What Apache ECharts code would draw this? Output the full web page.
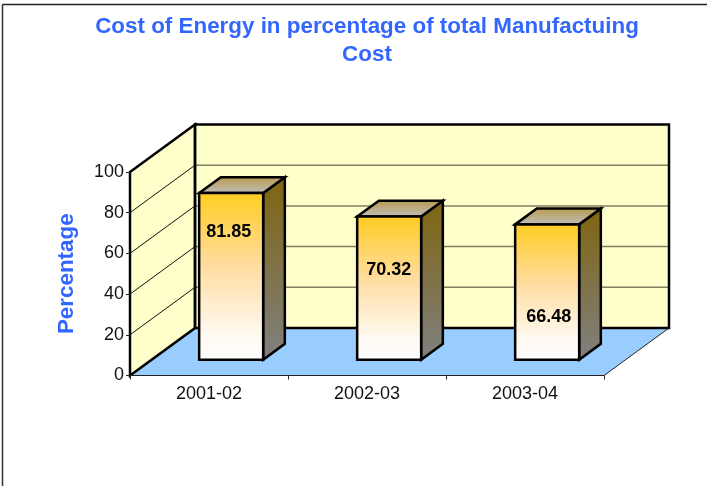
<!DOCTYPE html>
<html>
<head>
<meta charset="utf-8">
<style>
  html, body { margin: 0; padding: 0; background: #fff; }
  #chart { width: 707px; height: 486px; }
</style>
<script src="https://cdn.jsdelivr.net/npm/echarts@6/dist/echarts.min.js"></script>
</head>
<body>
<div id="chart"></div>
<script>
    // data
    var categories = ['2001-02', '2002-03', '2003-04'];
    var costShare = [81.85, 70.32, 66.48];
    var yTicks = [0, 20, 40, 60, 80, 100];

    // fake 3d: how far the back wall sits from the front plane
    var depthX = 65, depthY = 47.5;
    var barWidth = 0.405;          // share of a category band
    var barFront = 1 / 3, barBack = 2 / 3;
    // the data labels were hand placed in the original (px above the bar foot, px from bar centre)
    var labelLift = [128, 90, 43];
    var labelShift = [-2, 0, 2];

    var FONT = '"Liberation Sans", Arial, sans-serif';
    var myChart = echarts.init(document.getElementById('chart'), null, {renderer: 'canvas'});

    function poly(points, fill, stroke, width) {
        return {
            type: 'polygon',
            shape: {points: points},
            style: {fill: fill, stroke: stroke || null, lineWidth: width || 0, lineJoin: 'miter'}
        };
    }
    function line(x1, y1, x2, y2, color, width) {
        return {
            type: 'line',
            shape: {x1: x1, y1: y1, x2: x2, y2: y2},
            style: {stroke: color, lineWidth: width}
        };
    }
    function vGrad(stops) {
        return new echarts.graphic.LinearGradient(0, 0, 0, 1, stops);
    }

    function renderWalls(params, api) {
        var c = params.coordSys;
        var left = c.x, right = c.x + c.width, top = c.y, bottom = c.y + c.height;
        var kids = [
            poly([[left, bottom], [left + depthX, bottom - depthY], [right + depthX, bottom - depthY], [right, bottom]], '#99ccff'),
            poly([[left + depthX, top - depthY], [right + depthX, top - depthY], [right + depthX, bottom - depthY], [left + depthX, bottom - depthY]], '#ffffcc'),
            poly([[left, top], [left + depthX, top - depthY], [left + depthX, bottom - depthY], [left, bottom]], '#ffffcc')
        ];
        yTicks.forEach(function (v) {
            if (v === 0 || v === 100) return;
            var y = api.coord([0, v])[1];
            kids.push(line(left, y, left + depthX, y - depthY, '#111', 1));
            kids.push(line(left + depthX, y - depthY, right + depthX, y - depthY, '#7f7f60', 1.5));
        });
        // heavy outline of the walls
        kids.push(poly([[left, top], [left + depthX, top - depthY], [left + depthX, bottom - depthY], [left, bottom]], 'none', '#000', 2.5));
        kids.push(poly([[left + depthX, top - depthY], [right + depthX, top - depthY], [right + depthX, bottom - depthY], [left + depthX, bottom - depthY]], 'none', '#000', 2.5));
        // thin front edges of the floor
        kids.push(line(right, bottom, right + depthX, bottom - depthY, '#222', 1));
        return {type: 'group', children: kids};
    }

    function renderBar(params, api) {
        var i = api.value(0);
        var head = api.coord([i, api.value(1)]);
        var foot = api.coord([i, 0]);
        var w = api.size([1, 0])[0] * barWidth;
        var dx = depthX * barFront, dy = depthY * barFront;
        var bx = depthX * (barBack - barFront), by = depthY * (barBack - barFront);
        var x0 = foot[0] + dx - w / 2 + 0.5, x1 = x0 + w;
        var y0 = foot[1] - dy, y1 = head[1] - dy;
        var cx = foot[0] + dx + labelShift[params.dataIndex];
        return {
            type: 'group',
            children: [
                poly([[x1, y1], [x1 + bx, y1 - by], [x1 + bx, y0 - by], [x1, y0]],
                    vGrad([{offset: 0, color: '#7f650f'}, {offset: 1, color: '#808080'}]), '#000', 2.5),
                poly([[x0, y1], [x0 + bx, y1 - by], [x1 + bx, y1 - by], [x1, y1]],
                    vGrad([{offset: 0, color: '#b8984a'}, {offset: 1, color: '#c0c0c0'}]), '#000', 2.5),
                poly([[x0, y1], [x1, y1], [x1, y0], [x0, y0]],
                    vGrad([{offset: 0, color: '#ffcc1f'}, {offset: 0.42, color: '#ffdc9c'}, {offset: 0.85, color: '#fffaf2'}, {offset: 1, color: '#ffffff'}]), '#000', 2.5),
                {
                    type: 'text',
                    style: {
                        text: api.value(1).toFixed(2),
                        x: cx,
                        y: y0 - labelLift[params.dataIndex],
                        align: 'center',
                        verticalAlign: 'middle',
                        fill: '#000',
                        font: 'bold 18px ' + FONT
                    }
                }
            ]
        };
    }

    var options = {
        animation: false,
        backgroundColor: '#fff',
        textStyle: {fontFamily: FONT},
        title: {
            text: 'Cost of Energy in percentage of total Manufactuing\nCost',
            left: 362,
            top: 8,
            textAlign: 'center',
            textStyle: {
                color: '#3366ff',
                fontFamily: FONT,
                fontWeight: 'bold',
                fontSize: 22.4,
                lineHeight: 28
            }
        },
        grid: {left: 130, right: 103, top: 172, bottom: 110.5},
        xAxis: {
            type: 'category',
            data: categories,
            z: 5,
            axisLine: {show: true, lineStyle: {color: '#222', width: 1}},
            axisTick: {show: true, alignWithLabel: false, length: 4, lineStyle: {color: '#222'}},
            axisLabel: {color: '#111', fontSize: 18, margin: 10, fontFamily: FONT}
        },
        yAxis: {
            type: 'value',
            min: 0,
            max: 100,
            interval: 20,
            name: 'Percentage',
            nameLocation: 'middle',
            nameGap: 52,
            nameRotate: 90,
            nameTextStyle: {color: '#3366ff', fontSize: 22.4, fontWeight: 'bold', fontFamily: FONT},
            z: 5,
            splitLine: {show: false},
            axisLine: {show: true, lineStyle: {color: '#000', width: 2}},
            axisTick: {show: true, length: 4, lineStyle: {color: '#222'}},
            axisLabel: {color: '#111', fontSize: 18, margin: 6, fontFamily: FONT}
        },
        series: [
            {
                name: 'walls',
                type: 'custom',
                silent: true,
                clip: false,
                z: 1,
                data: [[0, 0]],
                renderItem: renderWalls
            },
            {
                name: 'Percentage',
                type: 'custom',
                clip: false,
                z: 2,
                encode: {x: 0, y: 1},
                data: costShare.map(function (v, i) { return [i, v]; }),
                renderItem: renderBar
            }
        ],
        graphic: [
            // page frame, only top and left survive in the original
            {type: 'line', silent: true, shape: {x1: 2.5, y1: 4.5, x2: 707, y2: 4.5}, style: {stroke: '#222', lineWidth: 1.5}},
            {type: 'line', silent: true, shape: {x1: 2.5, y1: 4.5, x2: 2.5, y2: 486}, style: {stroke: '#333', lineWidth: 1.5}}
        ]
    };
    myChart.setOption(options);
</script>
</body>
</html>
